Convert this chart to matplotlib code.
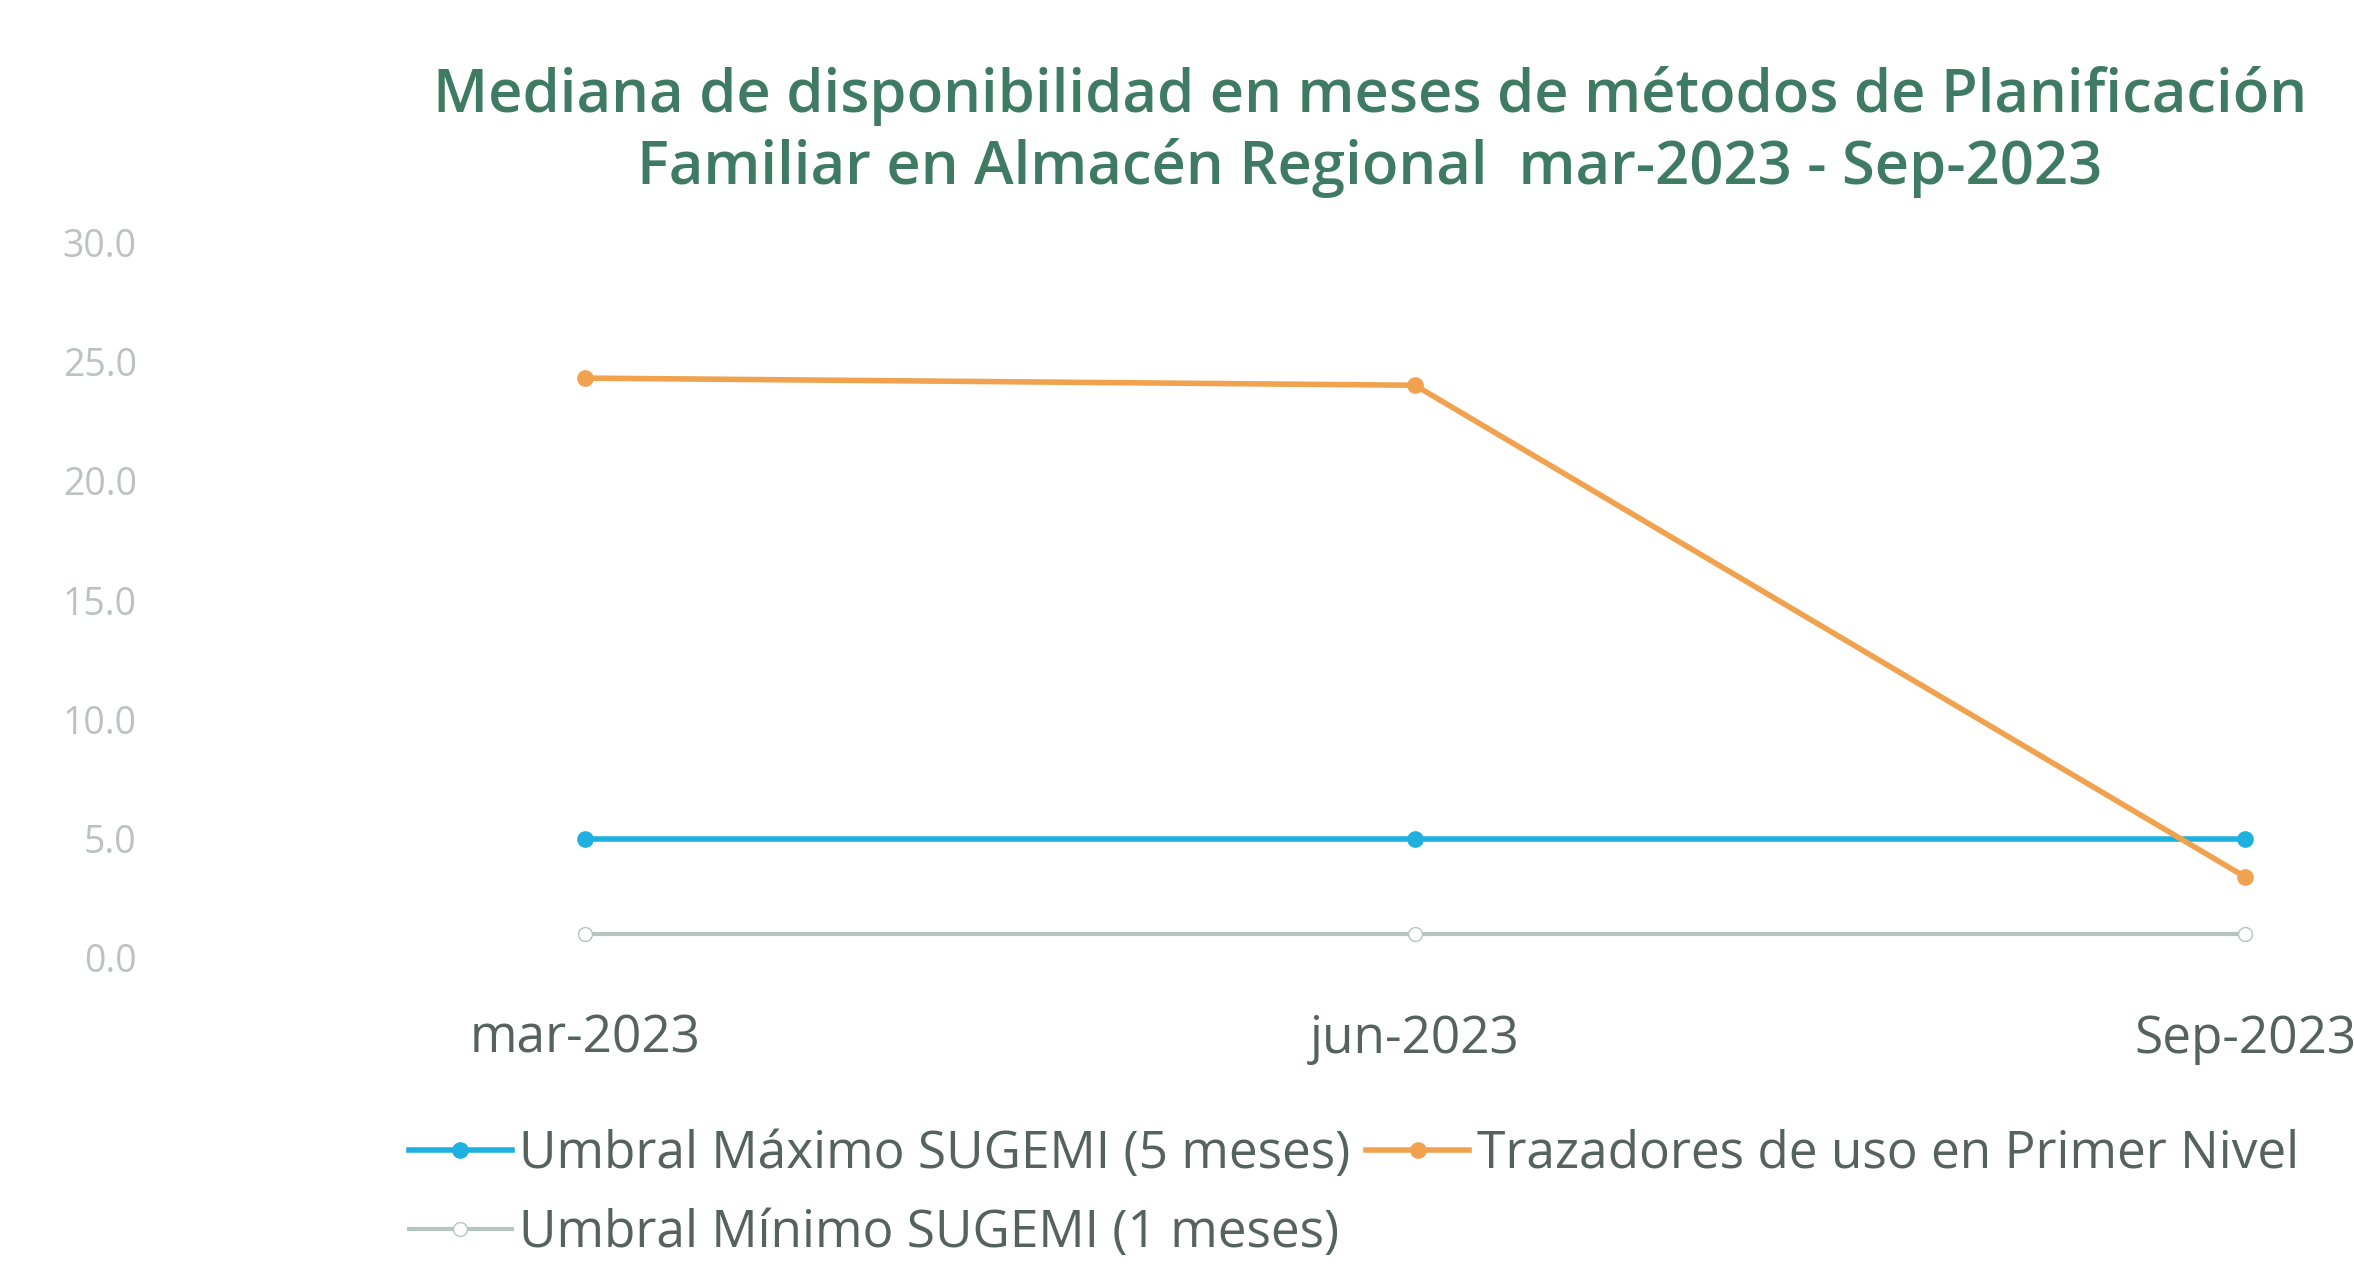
import matplotlib
matplotlib.use("Agg")
import matplotlib.pyplot as plt

plt.rcParams['font.family'] = ['Open Sans', 'DejaVu Sans']

# Datos
periodos = ['mar-2023', 'jun-2023', 'Sep-2023']
umbral_maximo = [5.0, 5.0, 5.0]
trazadores = [24.3, 24.0, 3.4]
umbral_minimo = [1.0, 1.0, 1.0]
y_ticks = [0, 5, 10, 15, 20, 25, 30]

color_max = '#1eb1e0'
color_traz = '#f0a24e'
color_min = '#b4c6be'

fig = plt.figure(figsize=(23.54, 12.68), dpi=100)
ax = fig.add_axes([0.0722, 0.2445, 1.0578, 0.5646])

x = list(range(len(periodos)))
l_max, = ax.plot(x, umbral_maximo, color=color_max, lw=4, marker='o', ms=11,
                 label='Umbral Máximo SUGEMI (5 meses)')
l_traz, = ax.plot(x, trazadores, color=color_traz, lw=4, marker='o', ms=11,
                  label='Trazadores de uso en Primer Nivel')
l_min, = ax.plot(x, umbral_minimo, color=color_min, lw=3, marker='o', ms=10,
                 mfc='white', label='Umbral Mínimo SUGEMI (1 meses)')

ax.set_xlim(-0.5, 2.5)
ax.set_ylim(0, 30)
ax.set_yticks(y_ticks)
ax.set_yticklabels([f'{v:.1f}' for v in y_ticks])
ax.set_xticks(x)
ax.set_xticklabels(periodos)
ax.tick_params(axis='y', length=0, pad=24, labelsize=27, labelcolor='#bcc2c0')
ax.tick_params(axis='x', length=0, pad=40, labelsize=37, labelcolor='#56625e')
for s in ax.spines.values():
    s.set_visible(False)

fig.text(0.582, 0.896,
         'Mediana de disponibilidad en meses de métodos de Planificación\n'
         'Familiar en Almacén Regional  mar-2023 - Sep-2023',
         ha='center', va='center', multialignment='center', linespacing=1.25,
         fontsize=43, fontweight='semibold', color='#3f7b64')

fig.legend(handles=[l_max, l_min, l_traz], ncol=2, loc='upper left',
           bbox_to_anchor=(0.165, 0.126), frameon=False, fontsize=37,
           labelcolor='#56625e', handlelength=2.0, handletextpad=0.15,
           columnspacing=0.3, labelspacing=0.55, borderaxespad=0)

fig.savefig('out.png', dpi=100)
